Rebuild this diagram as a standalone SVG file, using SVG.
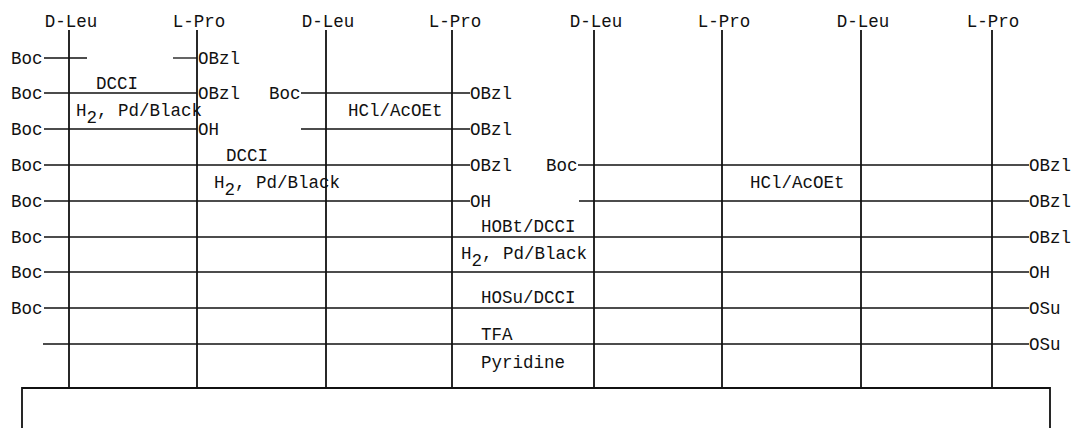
<svg xmlns="http://www.w3.org/2000/svg" width="1071" height="428" viewBox="0 0 1071 428">
<style>
text{font-family:"Liberation Mono","DejaVu Sans Mono",monospace;font-size:17.5px;fill:#111}
.v{stroke:#111;stroke-width:1.8;fill:none}
.h{stroke:#111;stroke-width:1.3;fill:none}
.c{text-anchor:middle}
</style>
<rect width="1071" height="428" fill="#fff"/>
<g id="columns">
<g id="col1"><text class="c" x="71" y="27">D-Leu</text><line class="v" x1="69" y1="30" x2="69" y2="388"/></g>
<g id="col2"><text class="c" x="199" y="27">L-Pro</text><line class="v" x1="197" y1="30" x2="197" y2="388"/></g>
<g id="col3"><text class="c" x="328" y="27">D-Leu</text><line class="v" x1="326" y1="30" x2="326" y2="388"/></g>
<g id="col4"><text class="c" x="455" y="27">L-Pro</text><line class="v" x1="452" y1="30" x2="452" y2="388"/></g>
<g id="col5"><text class="c" x="596" y="27">D-Leu</text><line class="v" x1="594" y1="30" x2="594" y2="388"/></g>
<g id="col6"><text class="c" x="724" y="27">L-Pro</text><line class="v" x1="722" y1="30" x2="722" y2="388"/></g>
<g id="col7"><text class="c" x="863" y="27">D-Leu</text><line class="v" x1="861" y1="30" x2="861" y2="388"/></g>
<g id="col8"><text class="c" x="993" y="27">L-Pro</text><line class="v" x1="992" y1="30" x2="992" y2="388"/></g>
</g>
<g id="base"><path class="v" d="M22 430V388H1050V430"/></g>
<g id="connectors">
<line class="h" x1="44" y1="58" x2="87" y2="58"/>
<line class="h" x1="173" y1="58" x2="197" y2="58"/>
<line class="h" x1="44" y1="93" x2="197" y2="93"/>
<line class="h" x1="301" y1="93" x2="470" y2="93"/>
<line class="h" x1="44" y1="129" x2="197" y2="129"/>
<line class="h" x1="301" y1="129" x2="470" y2="129"/>
<line class="h" x1="44" y1="165" x2="470" y2="165"/>
<line class="h" x1="578" y1="165" x2="1029" y2="165"/>
<line class="h" x1="44" y1="201" x2="470" y2="201"/>
<line class="h" x1="579" y1="201" x2="1029" y2="201"/>
<line class="h" x1="44" y1="237" x2="1029" y2="237"/>
<line class="h" x1="44" y1="272" x2="1029" y2="272"/>
<line class="h" x1="44" y1="308" x2="1029" y2="308"/>
<line class="h" x1="43" y1="344" x2="1029" y2="344"/>
</g>
<g id="end-groups">
<text x="11" y="63.5">Boc</text>
<text x="198" y="63.5">OBzl</text>
<text x="11" y="98.5">Boc</text>
<text x="198" y="98.5">OBzl</text>
<text x="269" y="98.5">Boc</text>
<text x="470" y="98.5">OBzl</text>
<text x="11" y="134.5">Boc</text>
<text x="198" y="134.5">OH</text>
<text x="470" y="134.5">OBzl</text>
<text x="11" y="170.5">Boc</text>
<text x="470" y="170.5">OBzl</text>
<text x="546" y="170.5">Boc</text>
<text x="1029" y="170.5">OBzl</text>
<text x="11" y="206.5">Boc</text>
<text x="470" y="206.5">OH</text>
<text x="1029" y="206.5">OBzl</text>
<text x="11" y="242.5">Boc</text>
<text x="1029" y="242.5">OBzl</text>
<text x="11" y="277.5">Boc</text>
<text x="1029" y="277.5">OH</text>
<text x="11" y="313.5">Boc</text>
<text x="1029" y="313.5">OSu</text>
<text x="1029" y="349.5">OSu</text>
</g>
<g id="reagents">
<text x="96" y="89">DCCI</text>
<text x="76" y="116">H<tspan dy="7">2</tspan><tspan dy="-7">, Pd/Black</tspan></text>
<text x="348" y="116">HCl/AcOEt</text>
<text x="226" y="161">DCCI</text>
<text x="214" y="188">H<tspan dy="7">2</tspan><tspan dy="-7">, Pd/Black</tspan></text>
<text x="750" y="188">HCl/AcOEt</text>
<text x="481" y="232">HOBt/DCCI</text>
<text x="461" y="259">H<tspan dy="7">2</tspan><tspan dy="-7">, Pd/Black</tspan></text>
<text x="481" y="303">HOSu/DCCI</text>
<text x="481" y="340">TFA</text>
<text x="481" y="368">Pyridine</text>
</g>
</svg>
